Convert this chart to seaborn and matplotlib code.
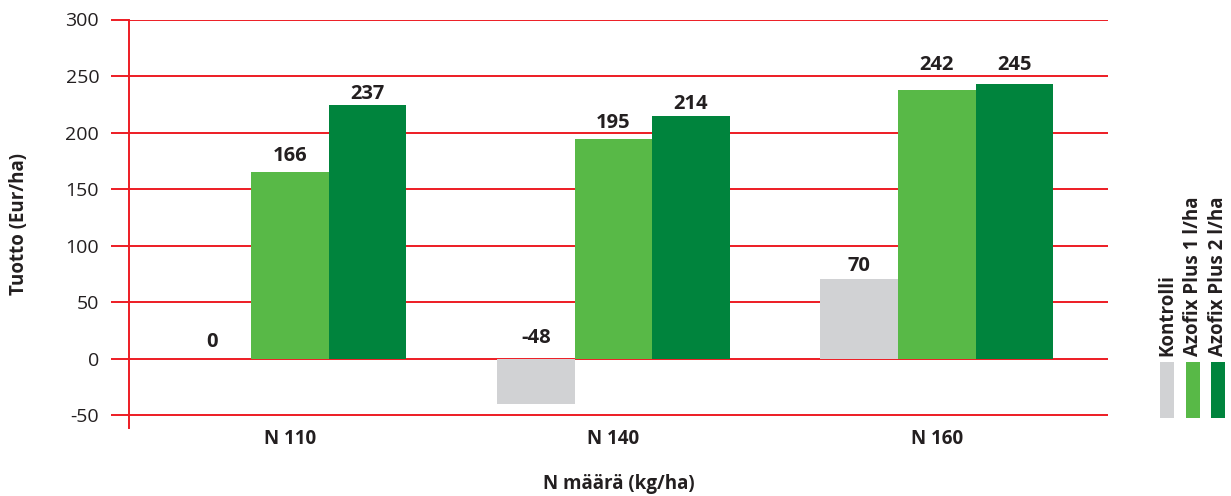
import pandas as pd
import matplotlib.pyplot as plt
import seaborn as sns
from matplotlib.patches import Rectangle

# data
groups = ["N 110", "N 140", "N 160"]
series = ["Kontrolli", "Azofix Plus 1 l/ha", "Azofix Plus 2 l/ha"]
kontrolli = [0, -40, 70]
azofix_1 = [165, 194, 238]
azofix_2 = [224, 215, 243]
# printed value labels (differ slightly from bar heights in the original)
lab_kontrolli = ["0", "-48", "70"]
lab_azofix_1 = ["166", "195", "242"]
lab_azofix_2 = ["237", "214", "245"]
yticks = [-50, 0, 50, 100, 150, 200, 250, 300]

colors = ["#D1D2D4", "#58B947", "#00843D"]
red = "#ED1C24"
txt = "#231F20"

df = pd.DataFrame({
    "group": groups * 3,
    "series": [series[0]] * 3 + [series[1]] * 3 + [series[2]] * 3,
    "value": kontrolli + azofix_1 + azofix_2,
})
labels = [lab_kontrolli, lab_azofix_1, lab_azofix_2]
# label gap above bar top (pixels), per series / group
gaps = [[12, 16, 8], [11, 11, 20], [6, 7, 14]]

sns.set_theme(style="white")
plt.rcParams["font.family"] = ["Open Sans", "DejaVu Sans"]
plt.rcParams["axes.unicode_minus"] = False

fig = plt.figure(figsize=(12.31, 4.96), dpi=100)
ax = fig.add_axes([129 / 1231, 68 / 496, (1108 - 129) / 1231, (428 - 19.5) / 496])

sns.barplot(data=df, x="group", y="value", hue="series", order=groups,
            hue_order=series, palette=colors, width=0.72, saturation=1,
            legend=False, ax=ax, linewidth=0, errorbar=None)

ax.set_ylim(-61.5, 300)
ax.set_xlim(-0.498, 2.529)
ax.set_yticks(yticks)
ax.set_axisbelow(True)
ax.yaxis.grid(True, color=red, linewidth=1.4)
ax.xaxis.grid(False)
for s in ["top", "right", "bottom"]:
    ax.spines[s].set_visible(False)
ax.spines["left"].set_color(red)
ax.spines["left"].set_linewidth(1.4)
ax.tick_params(axis="y", direction="out", length=13, width=1.4, color=red,
               pad=8.5, labelsize=14, labelcolor=txt, left=True)
ax.tick_params(axis="x", length=0, pad=1, labelsize=13.5, labelcolor=txt)
for t in ax.get_xticklabels():
    t.set_fontweight("bold")

ax.set_xlabel("N määrä (kg/ha)", fontsize=13.5, fontweight="bold", color=txt, labelpad=18)
ax.set_ylabel("Tuotto (Eur/ha)", fontsize=13.5, fontweight="bold", color=txt, labelpad=26)

for i, cont in enumerate(ax.containers):
    for j, bar in enumerate(cont):
        h = bar.get_height()
        ax.annotate(labels[i][j], (bar.get_x() + bar.get_width() / 2, max(h, 0)),
                    xytext=(0, gaps[i][j]), textcoords="offset pixels",
                    ha="center", va="baseline", fontsize=14.5, fontweight="bold",
                    color=txt)

# rotated legend on the right
leg_x = [1167, 1193, 1218]
for k, name in enumerate(series):
    fig.patches.append(Rectangle(((leg_x[k] - 7) / 1231, (496 - 418) / 496),
                                 14 / 1231, 56 / 496, transform=fig.transFigure,
                                 facecolor=colors[k], edgecolor="none"))
    fig.text(leg_x[k] / 1231, (496 - 356) / 496, name, rotation=90,
             ha="center", va="bottom", fontsize=13.5, fontweight="bold", color=txt)

fig.savefig("out.png", dpi=100)
